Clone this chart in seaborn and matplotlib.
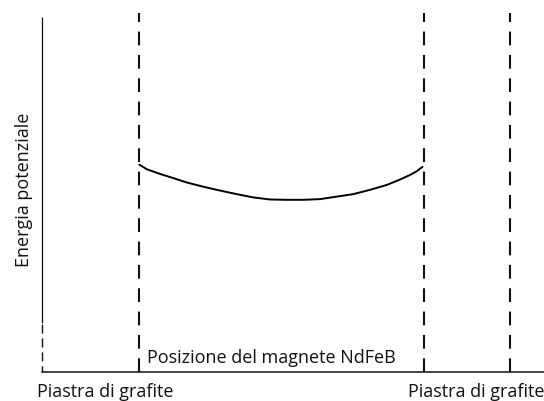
import matplotlib
matplotlib.use("Agg")
import matplotlib.pyplot as plt
import seaborn as sns
import pandas as pd

sns.set_theme(style="white")
plt.rcParams["font.family"] = ["Open Sans", "DejaVu Sans"]

# Magnet position (arbitrary length units) and potential energy (arbitrary units)
position = [1.94, 2.09, 2.35, 2.62, 2.88, 3.21, 3.55, 3.88, 4.20, 4.54, 4.87,
            5.20, 5.54, 5.87, 6.20, 6.53, 6.87, 7.13, 7.33, 7.46, 7.58]
energy = [5.84, 5.71, 5.58, 5.46, 5.34, 5.22, 5.11, 5.01, 4.92, 4.86, 4.85,
          4.85, 4.87, 4.94, 5.01, 5.13, 5.27, 5.42, 5.55, 5.65, 5.78]

# Graphite plates (inner pair bounds the curve) and the dashed stretch of the energy axis
plates = [1.93, 7.61, 9.32]
axis_dash_top = 1.38

labels_plate = ["Piastra di grafite", "Piastra di grafite"]
label_position = "Posizione del magnete NdFeB"
label_energy = "Energia potenziale"

df = pd.DataFrame({"position": position, "energy": energy})

W, H = 544, 401
fig = plt.figure(figsize=(W / 100, H / 100), dpi=100)
ax = fig.add_axes([42 / W, (H - 372) / H, (W - 42) / W, (372 - 17) / H])
ax.set_xlim(0, 10)
ax.set_ylim(0, 10)

sns.lineplot(data=df, x="position", y="energy", ax=ax, color="black",
             linewidth=1.4, estimator=None, sort=True)

ink = "#111111"
ax.vlines(plates, 0, 10.11, colors=ink, linewidth=1.5,
          linestyles=(0, (6.6, 4.6)), clip_on=False)

ax.plot([0, 0], [axis_dash_top, 10], color=ink, linewidth=0.9,
        solid_capstyle="butt", clip_on=False)
ax.plot([0, 0], [0, axis_dash_top], color=ink, linewidth=1.0,
        linestyle=(2, (6.5, 3.5)), clip_on=False)

for side in ["left", "top", "right"]:
    ax.spines[side].set_visible(False)
ax.spines["bottom"].set_color(ink)
ax.spines["bottom"].set_linewidth(1.1)

ax.set_xticks([])
ax.set_yticks([])
ax.set_xlabel("")
ax.set_ylabel("")

fs = 13
fig.text(37 / W, 1 - 397 / H, labels_plate[0], fontsize=fs, color=ink,
         ha="left", va="baseline")
fig.text(544 / W, 1 - 397 / H, labels_plate[1], fontsize=fs, color=ink,
         ha="right", va="baseline")
fig.text(147 / W, 1 - 363 / H, label_position, fontsize=fs, color=ink,
         ha="left", va="baseline")
fig.text(24 / W, 1 - 190 / H, label_energy, fontsize=fs, color=ink,
         rotation=90, ha="center", va="center")

fig.savefig("out.png", dpi=100)
